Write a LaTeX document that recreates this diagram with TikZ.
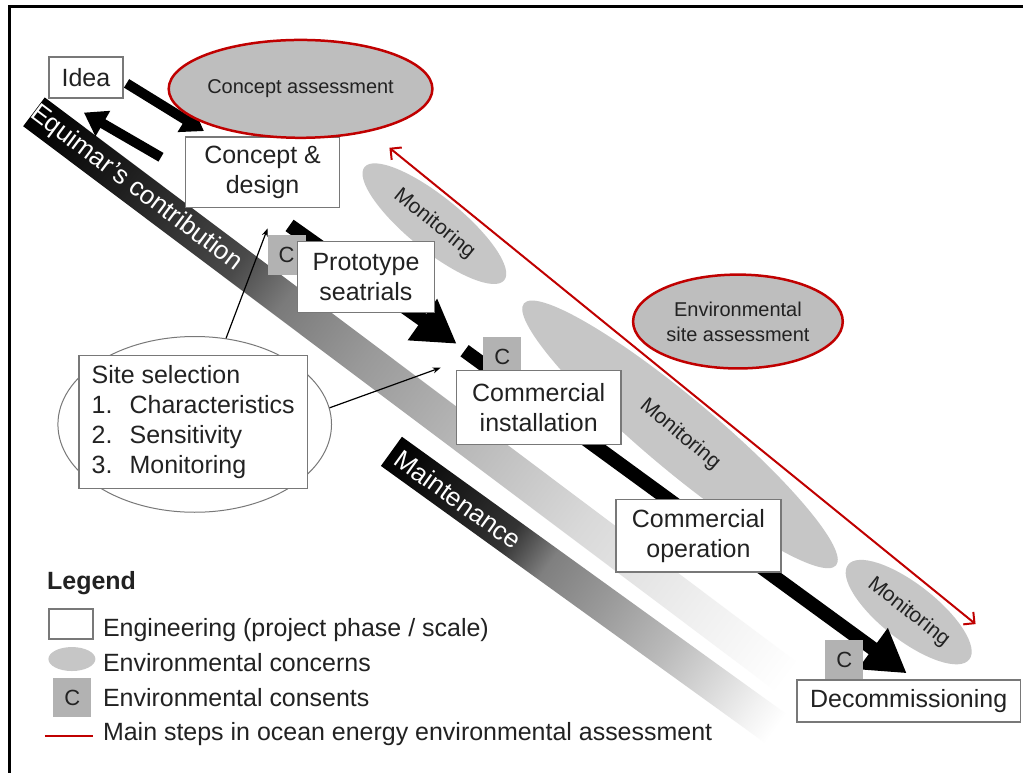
\documentclass[tikz,border=0pt]{standalone}
\usepackage{fontspec}
\setmainfont{Liberation Sans}
\usetikzlibrary{shapes.geometric,arrows.meta,calc}

\definecolor{redline}{RGB}{192,0,0}
\definecolor{concerngray}{RGB}{198,198,198}
\definecolor{assessgray}{RGB}{190,190,190}
\definecolor{consentgray}{RGB}{178,178,178}
\definecolor{boxline}{RGB}{120,120,120}
\definecolor{txt}{RGB}{34,34,34}

\pgfdeclarehorizontalshading{equishade}{100bp}{color(0bp)=(black); color(25bp)=(black); color(30bp)=(black!90); color(38bp)=(black!71); color(41bp)=(black!52); color(46bp)=(black!40); color(52.5bp)=(black!28); color(60bp)=(black!15); color(67.5bp)=(black!6); color(73bp)=(white); color(100bp)=(white)}
\pgfdeclarehorizontalshading{maintshade}{100bp}{color(0bp)=(black); color(25bp)=(black); color(40bp)=(black!80); color(45bp)=(black!50); color(52bp)=(black!40); color(60bp)=(black!27); color(66bp)=(black!15); color(71bp)=(black!5); color(74bp)=(white); color(100bp)=(white)}

\pgfdeclarelayer{bands}
\pgfdeclarelayer{arrows}
\pgfsetlayers{bands,arrows,main}

\begin{document}
\begin{tikzpicture}[x=1pt,y=-1pt,
  phase/.style={rectangle,draw=boxline,line width=1.5pt,fill=white,text=txt,align=center,inner sep=0pt,font=\fontsize{25}{30}\selectfont},
  concern/.style={ellipse,fill=concerngray,text=txt,inner sep=0pt,font=\fontsize{21}{25}\selectfont},
  assess/.style={ellipse,draw=redline,line width=2.5pt,fill=assessgray,text=txt,align=center,inner sep=0pt,font=\fontsize{20}{25}\selectfont},
  consent/.style={rectangle,fill=consentgray,text=txt,minimum width=38pt,minimum height=40pt,inner sep=0pt,font=\fontsize{22}{22}\selectfont},
  bandtext/.style={text=white,inner sep=0pt,font=\fontsize{26}{30}\selectfont},
  bigarrow/.style={line width=10pt,-{Triangle[length=22pt,width=28pt]}},
  mainarrow/.style={line width=14pt,-{Triangle[length=42pt,width=48pt]}},
  thinarrow/.style={line width=1.2pt,-{Stealth[length=8pt,width=6pt]}},
  redarrow/.style={draw=redline,line width=2pt,{Straight Barb[length=8pt,width=16pt]}-{Straight Barb[length=8pt,width=16pt]}},
  legtext/.style={anchor=base west,text=txt,inner sep=0pt,font=\fontsize{25}{30}\selectfont}]

\coordinate (equistart) at (34,112);
\coordinate (equiend) at (820,702);
\coordinate (maintstart) at (392,452);
\coordinate (maintend) at (785,735);

\begin{pgfonlayer}{bands}
\fill[white] (0,0) rectangle (1024,774);
\draw[line width=3pt] (9.5,774) -- (9.5,6.5) -- (1024,6.5);
\begin{scope}[transform canvas={shift={(equistart)},rotate=-36.9}]
\shade[shading=equishade] (0,-18) rectangle (983,18);
\end{scope}
\begin{scope}[transform canvas={shift={(maintstart)},rotate=-35.8}]
\shade[shading=maintshade] (0,-18) rectangle (484,18);
\end{scope}
\node[bandtext,rotate=-36.9] (equimartext) at ($(equistart)!0.13!(equiend)$) {Equimar's contribution};
\node[bandtext,rotate=-35.8] (mainttext) at ($(maintstart)!0.17!(maintend)$) {Maintenance};
\node[concern,minimum width=180pt,minimum height=54pt,rotate=-39] (mon1) at (435,224) {Monitoring};
\node[concern,minimum width=408pt,minimum height=72pt,rotate=-40] (mon2) at (681,435) {Monitoring};
\node[concern,minimum width=154pt,minimum height=56pt,rotate=-38] (mon3) at (910,613) {Monitoring};
\end{pgfonlayer}
\useasboundingbox (0,0) rectangle (1024,774);

\node[ellipse,draw=boxline,line width=1pt,fill=white,minimum width=274pt,minimum height=176pt] (siteoval) at (195,425) {};

\node[consent] (c1) at (287,255) {C};
\node[consent] (c2) at (503,357) {C};
\node[consent] (c3) at (845.5,661) {C};

\node[phase,minimum width=74pt,minimum height=41pt] (idea) at (86,77.5) {Idea};
\node[phase,minimum width=154pt,minimum height=71pt] (concept) at (263,172.5) {Concept \&\\design};
\node[phase,minimum width=137pt,minimum height=71pt] (proto) at (366.5,277.5) {Prototype\\seatrials};
\node[phase,minimum width=165pt,minimum height=74pt] (cominst) at (539.5,408) {Commercial\\installation};
\node[phase,minimum width=165pt,minimum height=73pt] (comop) at (699.5,536.5) {Commercial\\operation};
\node[phase,minimum width=224pt,minimum height=42pt] (decom) at (910,702) {Decommissioning};
\node[phase,align=left,minimum width=229pt,minimum height=133pt] (site) at (193.5,422.5)
  {Site selection\\\makebox[38pt][l]{1.}Characteristics\\\makebox[38pt][l]{2.}Sensitivity\\\makebox[38pt][l]{3.}Monitoring};

\node[assess,minimum width=208pt,minimum height=98pt] (conass) at (301,89) {Concept assessment};
\node[assess,minimum width=210pt,minimum height=94pt] (envass) at (739,322) {Environmental\\site assessment};

\begin{pgfonlayer}{arrows}
\draw[bigarrow] ($(idea.east)+(3,6)$) -- ($(concept.north west)+(19,-5)$);
\draw[bigarrow] ($(concept.west)+(-24,-15)$) -- ($(idea.south)+(-2,14)$);
\draw[mainarrow] ($(concept.south)+(27,17)$) -- ($(cominst.north west)+(1,-26)$);
\draw[mainarrow] ($(cominst.north west)+(9,-19)$) -- ($(decom.north)+(-2,-6)$);
\end{pgfonlayer}

\coordinate (redtop) at (390,148);
\coordinate (redend) at (977,625);
\draw[redarrow] (redtop) -- (redend);

\draw[thinarrow] (siteoval.70) -- ($(concept.south)+(5,20)$);
\draw[thinarrow] (siteoval.7) -- ($(cominst.north west)+(-15,-2)$);

\node[anchor=base west,inner sep=0pt,text=txt,font=\bfseries\fontsize{25}{30}\selectfont] (legend) at (47,590) {Legend};
\node[phase,minimum width=44pt,minimum height=30pt] (keyphase) at (71,625) {};
\node[concern,minimum width=47pt,minimum height=24pt] (keyconcern) at (72,660) {};
\node[consent] (keyconsent) at (72.5,698.5) {C};
\coordinate (keyredstart) at (45,737);
\coordinate (keyredend) at (93,737);
\draw[redline,line width=2pt] (keyredstart) -- (keyredend);
\node[legtext] (keyphasetext) at (103,637) {Engineering (project phase / scale)};
\node[legtext] (keyconcerntext) at (103,672) {Environmental concerns};
\node[legtext] (keyconsenttext) at (103,708) {Environmental consents};
\node[legtext] (keyredtext) at (103,742) {Main steps in ocean energy environmental assessment};
\end{tikzpicture}
\end{document}
